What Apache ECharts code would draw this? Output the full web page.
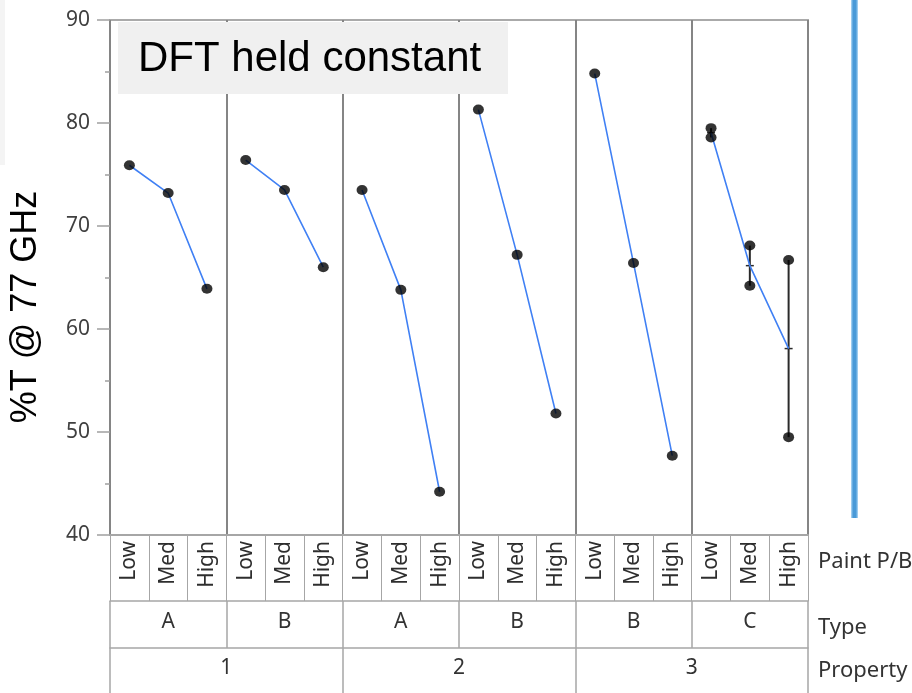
<!DOCTYPE html>
<html>
<head>
<meta charset="utf-8">
<script src="https://cdn.jsdelivr.net/npm/echarts@6/dist/echarts.min.js"></script>
<style>
  html, body { margin: 0; padding: 0; background: #fff; }
  #chart { width: 912px; height: 693px; }
</style>
</head>
<body>
<div id="chart"></div>
<script>
// x axis levels: Paint P/B within Type within Property
var levels = ['Low', 'Med', 'High']
var types = ['A', 'B', 'A', 'B', 'B', 'C']
var properties = ['1', '2', '3']
var yTicks = [40, 50, 60, 70, 80, 90]

// %T readings, one list per type panel, one inner list per paint level
var panel1 = [[75.9], [73.2], [63.9]]
var panel2 = [[76.4], [73.5], [66.0]]
var panel3 = [[73.5], [63.8], [44.2]]
var panel4 = [[81.3], [67.2], [51.8]]
var panel5 = [[84.8], [66.4], [47.7]]
var panel6 = [[79.5, 78.6], [68.1, 64.2], [66.7, 49.5]]
var panels = [panel1, panel2, panel3, panel4, panel5, panel6]

var labelFont = 'Noto Sans'
var tableLine = '#a6a6a6'

var chart = echarts.init(document.getElementById('chart'))

var categories = []
types.forEach(function() { levels.forEach(function(l) { categories.push(l) }) })

function mean(arr) {
  return arr.reduce(function(a, b) { return a + b }, 0) / arr.length
}

var points = []
var ranges = []
var series = []
panels.forEach(function(panel, p) {
  var meanLine = []
  panel.forEach(function(vals, i) {
    var idx = p * 3 + i
    vals.forEach(function(v) { points.push([idx, v]) })
    meanLine.push([idx, mean(vals)])
    if (vals.length > 1) {
      ranges.push([idx, Math.min.apply(null, vals), Math.max.apply(null, vals), mean(vals)])
    }
  })
  series.push({
    type: 'line',
    data: meanLine,
    symbol: 'none',
    silent: true,
    z: 3,
    lineStyle: { color: '#4080f4', width: 1.6 }
  })
})

series.push({
  type: 'custom',
  data: ranges,
  z: 2,
  encode: { x: 0, y: [1, 2, 3] },
  renderItem: function(params, api) {
    var lo = api.coord([api.value(0), api.value(1)])
    var hi = api.coord([api.value(0), api.value(2)])
    var m = api.coord([api.value(0), api.value(3)])
    return {
      type: 'group',
      children: [
        { type: 'line', shape: { x1: lo[0], y1: lo[1], x2: hi[0], y2: hi[1] },
          style: { stroke: '#2a2a2a', lineWidth: 2 } },
        { type: 'line', shape: { x1: m[0] - 4, y1: m[1], x2: m[0] + 4, y2: m[1] },
          style: { stroke: '#2a2a2a', lineWidth: 1.5 } }
      ]
    }
  }
})

series.push({
  type: 'scatter',
  data: points,
  symbol: 'circle',
  symbolSize: [11, 10],
  z: 4,
  itemStyle: { color: '#000' }
})

chart.setOption({
  animation: false,
  backgroundColor: '#fff',
  grid: {
    left: 110,
    right: 104,
    top: 20,
    bottom: 158,
    show: true,
    borderColor: '#aaaaaa',
    borderWidth: 2
  },
  xAxis: [
    {
      type: 'category',
      data: categories,
      position: 'bottom',
      boundaryGap: true,
      axisLine: { show: true, lineStyle: { color: tableLine, width: 2 } },
      axisTick: { show: true, length: 66, interval: 0, lineStyle: { color: tableLine, width: 1 } },
      axisLabel: {
        interval: 0, rotate: 90, margin: 6,
        fontFamily: labelFont, fontSize: 21, color: '#2e2e2e'
      },
      splitLine: { show: false }
    },
    {
      type: 'category',
      data: types,
      position: 'bottom',
      offset: 66,
      axisLine: { show: true, lineStyle: { color: tableLine, width: 1.5 } },
      axisTick: { show: true, length: 47, interval: 0, lineStyle: { color: tableLine, width: 1.5 } },
      axisLabel: {
        interval: 0, margin: 21.5, verticalAlign: 'middle',
        fontFamily: labelFont, fontSize: 21, color: '#333'
      },
      splitLine: { show: true, lineStyle: { color: '#858585', width: 2 } }
    },
    {
      type: 'category',
      data: properties,
      position: 'bottom',
      offset: 113,
      axisLine: { show: true, lineStyle: { color: tableLine, width: 1.5 } },
      axisTick: { show: true, length: 60, interval: 0, lineStyle: { color: tableLine, width: 1.5 } },
      axisLabel: {
        interval: 0, margin: 20.5, verticalAlign: 'middle',
        fontFamily: labelFont, fontSize: 21, color: '#333'
      },
      splitLine: { show: false }
    }
  ],
  yAxis: {
    type: 'value',
    min: yTicks[0],
    max: yTicks[yTicks.length - 1],
    interval: 10,
    axisLine: { show: false },
    axisTick: { show: true, length: 13, lineStyle: { color: '#a0a0a0', width: 1.5 } },
    minorTick: { show: true, splitNumber: 2, length: 5, lineStyle: { color: '#a0a0a0', width: 1.5 } },
    axisLabel: { margin: 20, fontFamily: labelFont, fontSize: 21, color: '#404040' },
    splitLine: { show: false }
  },
  graphic: [
    { type: 'rect', z: 0, shape: { x: 0, y: 0, width: 5, height: 165 }, style: { fill: '#f4f4f4' } },
    { type: 'rect', z: 100, shape: { x: 118, y: 22, width: 390, height: 72 }, style: { fill: '#f0f0f0' } },
    { type: 'text', z: 101, x: 138, y: 59,
      style: { text: 'DFT held constant', fontFamily: 'Liberation Sans', fontSize: 42,
        fill: '#000', align: 'left', verticalAlign: 'middle' } },
    { type: 'text', z: 101, x: 26, y: 307, rotation: Math.PI / 2,
      style: { text: '%T @ 77 GHz', fontFamily: 'Liberation Sans', fontSize: 36,
        fill: '#000', align: 'center', verticalAlign: 'middle' } },
    { type: 'rect', z: 100, shape: { x: 851, y: 0, width: 7, height: 518 },
      style: { fill: new echarts.graphic.LinearGradient(0, 0, 1, 0, [
        { offset: 0, color: '#b5dbf7' },
        { offset: 0.3, color: '#4a9ad8' },
        { offset: 0.7, color: '#4a9ad8' },
        { offset: 1, color: '#b5dbf7' }
      ]) } },
    { type: 'text', x: 818, y: 562,
      style: { text: 'Paint P/B', fontFamily: labelFont, fontSize: 22, fill: '#333', verticalAlign: 'middle' } },
    { type: 'text', x: 818, y: 628,
      style: { text: 'Type', fontFamily: labelFont, fontSize: 22, fill: '#333', verticalAlign: 'middle' } },
    { type: 'text', x: 818, y: 671,
      style: { text: 'Property', fontFamily: labelFont, fontSize: 22, fill: '#333', verticalAlign: 'middle' } }
  ],
  series: series
})
</script>
</body>
</html>
